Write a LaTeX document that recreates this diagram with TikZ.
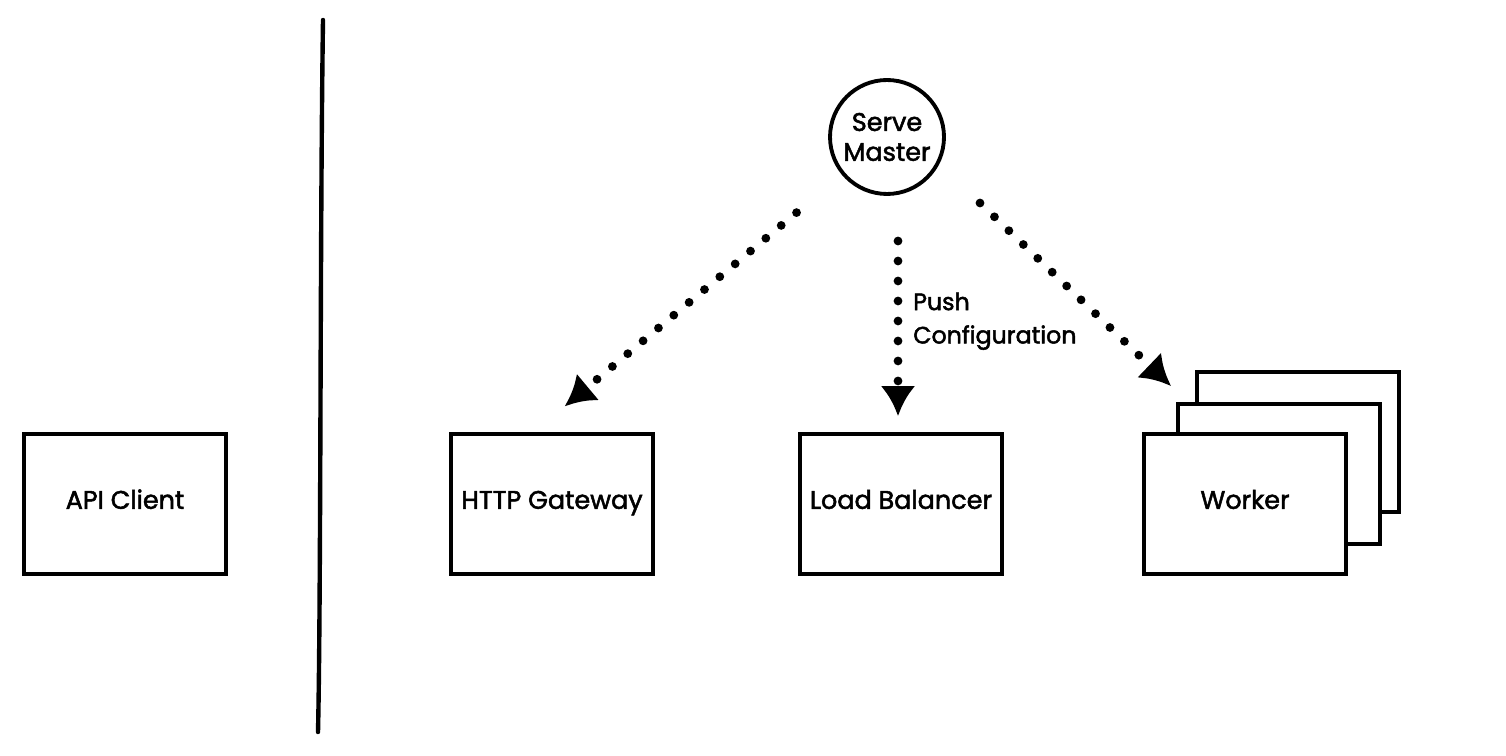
\documentclass[tikz,border=0pt]{standalone}
\usepackage{fontspec}
\setmainfont{Poppins}[UprightFeatures={FakeBold=2}]
\usetikzlibrary{positioning,calc,arrows.meta}
\tikzset{
  box/.style={draw, line width=2.3pt, fill=white, minimum width=4.04cm, minimum height=2.8cm,
    inner sep=0pt, text height=10pt, text depth=4.5pt},
  push/.style={line width=5pt, line cap=round, dash pattern=on 0pt off 0.4cm,
    -{Latex[length=0.6cm, width=0.7cm]}},
}
\tikzstyle{every node}=[font=\fontsize{14.5}{18}\selectfont]

\begin{document}
\begin{tikzpicture}[x=0.02cm, y=-0.02cm]
    \useasboundingbox (0,0) rectangle (1506,756);
    % client side
    \node[box] (client) at (125,504) {API Client};
    \draw[line width=2.5pt, line cap=round] (323,20) .. controls (320,220) and (321,600) .. (318,732);
    % serve side
    \node[draw, circle, line width=2.2pt, minimum size=2.28cm, inner sep=0pt, align=center] (master) at (887,137) {Serve\\[-1pt]Master};
    \node[box] (gw) at (552,504) {HTTP Gateway};
    \node[box] (lb) at (901,504) {Load Balancer};
    \node[box] (wk3) at (1298,442) {};
    \node[box] (wk2) at (1279,474) {};
    \node[box] (wk) at (1245,504) {Worker};
    % config arrows
    \coordinate (gwin) at ($(gw.north)+(-18,0)$);
    \draw[push, shorten <=1.18cm, shorten >=0.8cm] (master) -- (gwin);
    \coordinate (lbout) at ($(lb.north)+(-3,-191)$);
    \draw[push, shorten >=0.32cm] (lbout) -- node[pos=0.42, right=0.1cm, align=left, font=\fontsize{13.5}{19}\selectfont]{Push\\Configuration} (lbout |- lb.north);
    \coordinate (wkout) at ($(master.center)+(93,66)$);
    \coordinate (wkin) at ($(wk.north west)+(29,-46)$);
    \draw[push] (wkout) -- (wkin);
\end{tikzpicture}
\end{document}
